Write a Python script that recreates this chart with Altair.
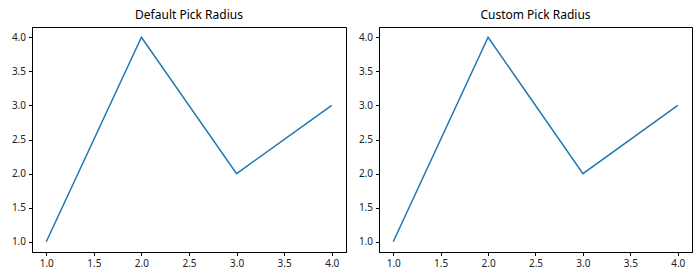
import altair as alt
import pandas as pd

x_vals = [1, 2, 3, 4]
y_vals = [1, 4, 2, 3]
titles = ["Default Pick Radius", "Custom Pick Radius"]
tick_values = [1.0, 1.5, 2.0, 2.5, 3.0, 3.5, 4.0]

df = pd.DataFrame({"x": x_vals, "y": y_vals})
FONT = "Noto Sans"


def panel(title, w):
    return (
        alt.Chart(df)
        .mark_line(color="#1f77b4", strokeWidth=1.5)
        .encode(
            x=alt.X(
                "x:Q",
                scale=alt.Scale(domain=[0.85, 4.15], nice=False, zero=False),
                axis=alt.Axis(values=tick_values, format=".1f", title=None),
            ),
            y=alt.Y(
                "y:Q",
                scale=alt.Scale(domain=[0.85, 4.15], nice=False, zero=False),
                axis=alt.Axis(values=tick_values, format=".1f", title=None),
            ),
        )
        .properties(
            width=w,
            height=225,
            title=alt.TitleParams(
                title,
                fontSize=12,
                font=FONT,
                fontWeight="normal",
                color="black",
                anchor="middle",
                frame="group",
                offset=5,
            ),
        )
    )


chart = (
    alt.hconcat(panel(titles[0], 314), panel(titles[1], 313), spacing=7)
    .configure_view(stroke="black", strokeWidth=1)
    .configure_axis(
        grid=False,
        domainColor="black",
        tickColor="black",
        tickSize=3.5,
        labelPadding=3,
        labelFontSize=10,
        labelFont=FONT,
        labelColor="#222222",
        minExtent=24,
        maxExtent=24,
    )
    .properties(padding={"left": 7, "top": 8, "right": 5, "bottom": 5})
)

chart.save("out.html", embed_options={"renderer": "svg", "actions": False})
